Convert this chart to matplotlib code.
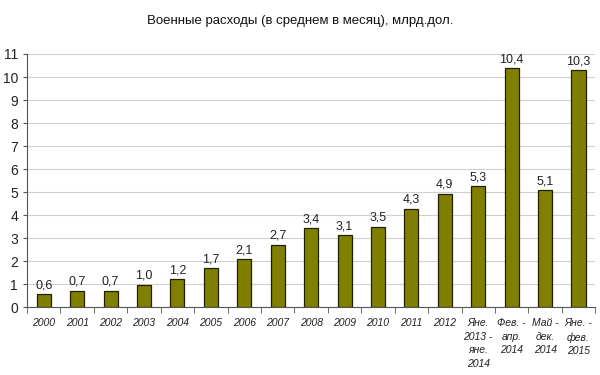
import matplotlib
matplotlib.use("Agg")
import matplotlib.pyplot as plt
import numpy as np

categories = ["2000", "2001", "2002", "2003", "2004", "2005", "2006", "2007",
              "2008", "2009", "2010", "2011", "2012",
              "Яне.\n2013 -\nяне.\n2014", "Фев. -\nапр.\n2014",
              "Май -\nдек.\n2014", "Яне. -\nфев.\n2015"]
values = [0.6, 0.7, 0.7, 1.0, 1.2, 1.7, 2.1, 2.7, 3.4, 3.1, 3.5, 4.3, 4.9,
          5.3, 10.4, 5.1, 10.3]
heights = [0.55, 0.72, 0.72, 0.98, 1.22, 1.7, 2.08, 2.72, 3.42, 3.12, 3.5,
           4.28, 4.93, 5.27, 10.37, 5.08, 10.3]

plt.rcParams['font.family'] = ['Liberation Sans', 'DejaVu Sans']

fig = plt.figure(figsize=(6, 3.75), dpi=100)
ax = fig.add_axes([0.045, 0.181, 0.947, 0.675])

x = np.arange(len(categories))
ax.bar(x, heights, width=0.42, color='#808000', edgecolor='#202000', linewidth=0.9, zorder=3)

for xi, h, v in zip(x, heights, values):
    ax.text(xi, h + 0.12, f"{v:.1f}".replace('.', ','), ha='center', va='bottom',
            fontsize=9, color='#222222')

ax.set_xlim(-0.5, len(categories) - 0.5)
ax.set_ylim(0, 11)
ax.set_yticks(range(0, 12))
ax.yaxis.grid(True, color='#d0d0d0', linewidth=0.8, zorder=0)

ax.set_xticks(x)
ax.set_xticklabels(categories, fontsize=7.5, style='italic', va='top', linespacing=1.45,
                   color='#222222')
ax.tick_params(axis='x', length=0, pad=8)
ax.set_xticks(np.arange(-0.5, len(categories), 1), minor=True)
ax.tick_params(axis='x', which='minor', length=4, color='#555555')
ax.tick_params(axis='y', labelsize=10, length=3, color='#555555', labelcolor='#222222')

for s in ['top', 'right']:
    ax.spines[s].set_visible(False)
ax.spines['left'].set_color('#555555')
ax.spines['bottom'].set_color('#555555')

fig.text(0.5, 0.945, "Военные расходы (в среднем в месяц), млрд.дол.", ha='center',
         va='center', fontsize=9.5, color='#111111')

fig.savefig("out.png", dpi=100)
